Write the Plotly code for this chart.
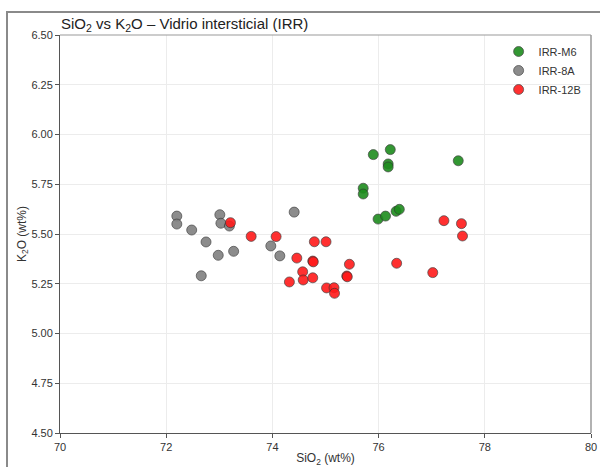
import plotly.graph_objects as go

# ---- data ----
m6_sio2 = [75.90, 76.22, 76.18, 76.18, 77.50, 75.71, 75.71, 75.99, 76.13, 76.33, 76.39]
m6_k2o = [5.899, 5.924, 5.852, 5.837, 5.868, 5.730, 5.701, 5.575, 5.590, 5.614, 5.624]

a8_sio2 = [72.20, 72.20, 72.48, 72.75, 72.66, 73.01, 73.03, 72.98, 73.19, 73.27, 73.97, 74.14, 74.41]
a8_k2o = [5.590, 5.550, 5.520, 5.460, 5.290, 5.597, 5.554, 5.393, 5.540, 5.413, 5.440, 5.390, 5.610]

b12_sio2 = [73.21, 73.60, 74.07, 74.79, 75.01, 74.46, 74.76, 74.77, 75.45, 74.57, 74.58, 74.76,
            74.32, 75.40, 75.41, 75.02, 75.16, 75.17, 77.23, 77.56, 77.58, 76.34, 77.02]
b12_k2o = [5.557, 5.488, 5.487, 5.461, 5.461, 5.379, 5.364, 5.360, 5.348, 5.310, 5.269, 5.280,
           5.259, 5.289, 5.285, 5.229, 5.230, 5.202, 5.567, 5.552, 5.490, 5.353, 5.306]

x_ticks = [70, 72, 74, 76, 78, 80]
y_ticks = [4.50, 4.75, 5.00, 5.25, 5.50, 5.75, 6.00, 6.25, 6.50]

series = [
    ("IRR-M6", m6_sio2, m6_k2o, "#1e8c1e"),
    ("IRR-8A", a8_sio2, a8_k2o, "#808080"),
    ("IRR-12B", b12_sio2, b12_k2o, "#ff1a1a"),
]

fig = go.Figure()
for name, xs, ys, col in series:
    fig.add_trace(go.Scatter(
        x=xs, y=ys, mode="markers", name=name,
        marker=dict(size=10, color=col, opacity=0.9,
                    line=dict(color="#333333", width=0.7)),
    ))

FONT = "Liberation Sans, Arial, sans-serif"

fig.update_layout(
    width=600, height=467,
    margin=dict(l=60, r=9, t=35, b=34, autoexpand=False),
    paper_bgcolor="white", plot_bgcolor="white",
    font=dict(family=FONT, size=11, color="#333333"),
    title=dict(text="SiO<sub>2</sub> vs K<sub>2</sub>O \u2013 Vidrio intersticial (IRR)",
               x=61/600, xanchor="left", xref="container",
               y=1-24/467, yanchor="middle", yref="container",
               font=dict(family=FONT, size=15, color="#222222")),
    legend=dict(x=0.826, xanchor="left", y=0.995, yanchor="top",
                bgcolor="rgba(0,0,0,0)", font=dict(size=11, color="#333333"),
                tracegroupgap=0),
    showlegend=True,
)

fig.update_xaxes(
    range=[70, 80], tickvals=x_ticks, ticktext=[str(v) for v in x_ticks],
    showgrid=True, gridcolor="#ececec", gridwidth=1, zeroline=False,
    showline=True, linecolor="#555555", linewidth=1,
    ticks="outside", ticklen=4, tickcolor="#555555", automargin=False,
    title=dict(text="SiO<sub>2</sub> (wt%)", standoff=2, font=dict(size=12)),
)
fig.update_yaxes(
    range=[4.5, 6.5], tickvals=y_ticks, ticktext=[f"{v:.2f}" for v in y_ticks],
    showgrid=True, gridcolor="#ececec", gridwidth=1, zeroline=False,
    showline=True, linecolor="#555555", linewidth=1,
    ticks="outside", ticklen=4, tickcolor="#555555", automargin=False,
    title=dict(text="K<sub>2</sub>O (wt%)", standoff=2, font=dict(size=12)),
)

# top/right spines (lighter)
fig.add_shape(type="line", xref="paper", yref="paper", x0=0, x1=1, y0=1, y1=1,
              line=dict(color="#999999", width=1))
fig.add_shape(type="line", xref="paper", yref="paper", x0=1, x1=1, y0=0, y1=1,
              line=dict(color="#999999", width=1.5))
# outer frame
fig.add_shape(type="rect", xref="paper", yref="paper",
              x0=(7-60)/531, x1=(610-60)/531, y0=(433-480)/398, y1=(433-12)/398,
              line=dict(color="#8a8a8a", width=2), layer="above")

fig.write_html("out.html")
